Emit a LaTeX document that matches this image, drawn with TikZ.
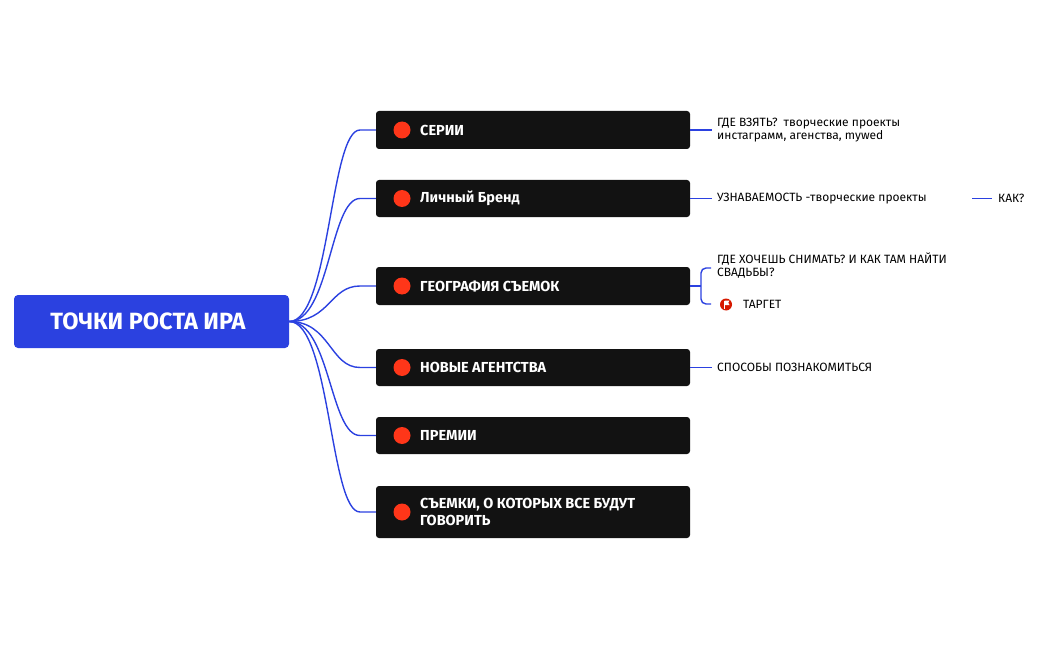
\documentclass[tikz,border=0pt]{standalone}
\usepackage{fontspec}
\setmainfont{Fira Sans}
\begin{document}
\begin{tikzpicture}[x=1pt,y=-1pt,
 br/.style={draw=none,fill=black!93,rounded corners=3pt,minimum width=314pt,inner sep=0pt},
 bt/.style={text=white,font=\fontsize{14.5}{16.5}\selectfont\bfseries,anchor=west,align=left,inner sep=0pt},
 dot/.style={circle,fill=red!75!orange!90!white,minimum size=17pt,inner sep=0pt},
 lf/.style={font=\fontsize{12}{13}\selectfont,anchor=west,align=left,inner sep=0pt},
 ln/.style={draw=rb,line width=1.4pt}]
\useasboundingbox (0,0) rectangle (1050,650);
\definecolor{rb}{HTML}{2B41E0}
\node[fill=rb,rounded corners=4pt,minimum width=275pt,minimum height=53pt,inner sep=0pt] (root) at (151.5,321.5) {};
\node[text=white,font=\fontsize{23.5}{26}\selectfont\bfseries] at (148,321.5) {ТОЧКИ РОСТА ИРА};
\foreach \n/\y/\h/\t in {b1/130/38/СЕРИИ, b2/198.5/37/Личный Бренд, b3/286/38/ГЕОГРАФИЯ СЪЕМОК, b4/367.5/37/НОВЫЕ АГЕНТСТВА, b5/435.5/37/ПРЕМИИ, b6/512/52/{СЪЕМКИ, О КОТОРЫХ ВСЕ БУДУТ\\ГОВОРИТЬ}}{
 \node[br,minimum height=\h pt] (\n) at (533,\y) {};
 \node[dot] (d\n) at (402,\y) {};
 \node[bt] (t\n) at (420,\y) {\t};
 \draw[ln] (root.east) .. controls (330,321.5) and (330,\y) .. (360,\y) -- (\n.west);
}
\node[lf] (l1) at (717,130) {ГДЕ ВЗЯТЬ?\enspace творческие проекты\\инстаграмм, агенства, mywed};
\draw[ln] (b1.east) -- ([xshift=-5pt]l1.west);
\node[lf] (l2) at (717,198.5) {УЗНАВАЕМОСТЬ -творческие проекты};
\draw[ln] (b2.east) -- ([xshift=-5pt]l2.west);
\coordinate (k0) at (972,198.5);
\node[lf] (k) at (998,198.5) {КАК?};
\draw[ln] (k0) -- ([xshift=-6pt]k.west);
\node[lf] (l3) at (717,266) {ГДЕ ХОЧЕШЬ СНИМАТЬ? И КАК ТАМ НАЙТИ\\СВАДЬБЫ?};
\node[circle,fill=red!80!black!80!orange,minimum size=12pt,inner sep=0pt] (ic) at (726,304.5) {};
\fill[white] (723.5,300.5) rectangle (724.8,308.5);
\fill[white] (724.5,300.5) -- (729.5,300.5) -- (728.3,302.8) -- (729.5,305) -- (724.5,305) -- cycle;
\node[lf] (l4) at (743,304) {ТАРГЕТ};
\draw[ln] (b3.east) -- (701,286);
\draw[ln] (711,268) -- (706,268) arc (-90:-180:5) -- (701,299) arc (180:90:5) -- (711,304);
\node[lf] (l5) at (717,367.5) {СПОСОБЫ ПОЗНАКОМИТЬСЯ};
\draw[ln] (b4.east) -- ([xshift=-5pt]l5.west);
\end{tikzpicture}
\end{document}
